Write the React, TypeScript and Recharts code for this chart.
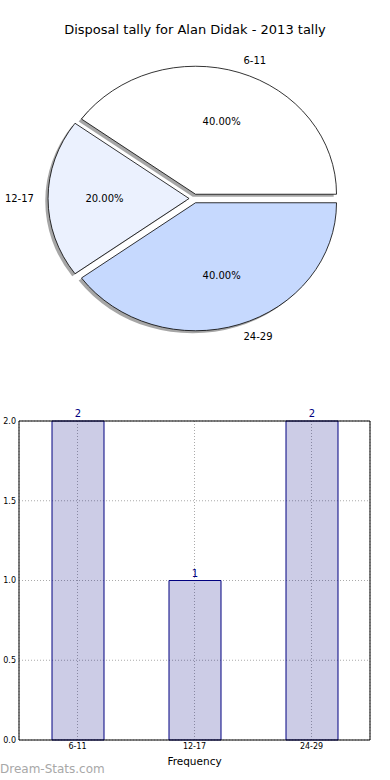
import {
  PieChart, Pie, BarChart, Bar, XAxis, YAxis, CartesianGrid, LabelList,
} from 'recharts';

const ageGroups = ['6-11', '12-17', '24-29'];
const disposals = [2, 1, 2];
const sliceColors = ['#ffffff', '#ebf1fe', '#c6d9fe'];
const yTicks = [0, 0.5, 1, 1.5, 2];

const FONT = '"DejaVu Sans", Verdana, sans-serif';
const RAD = Math.PI / 180;
// pie is drawn as an ellipse (matplotlib axes were not square)
const SX = 141 / 128;
const EXPLODE = 0.035;

const pieData = ageGroups.map((name, i) => ({ name, value: disposals[i], fill: sliceColors[i] }));
const barData = ageGroups.map((name, i) => ({ name, value: disposals[i] }));

function wedgePath(p: any, shiftX = 0, shiftY = 0) {
  const { cx, cy, outerRadius: r, startAngle, endAngle } = p;
  const mid = (startAngle + endAngle) / 2;
  const ox = cx + EXPLODE * r * SX * Math.cos(mid * RAD) + shiftX;
  const oy = cy - EXPLODE * r * Math.sin(mid * RAD) + shiftY;
  const pt = (a: number) => [ox + r * SX * Math.cos(a * RAD), oy - r * Math.sin(a * RAD)];
  const [x1, y1] = pt(startAngle);
  const [x2, y2] = pt(endAngle);
  const large = Math.abs(endAngle - startAngle) > 180 ? 1 : 0;
  return `M${ox},${oy} L${x1},${y1} A${r * SX},${r} 0 ${large} 0 ${x2},${y2} Z`;
}

const ShadowShape = (p: any) => (
  <path d={wedgePath(p, -2.8, 2.6)} fill="#4d4d4d" fillOpacity={0.5} stroke="none" />
);

const WedgeShape = (p: any) => (
  <path d={wedgePath(p)} fill={p.fill} stroke="#000" strokeWidth={0.8} />
);

const renderPieLabel = (p: any) => {
  const { cx, cy, outerRadius: r, midAngle, percent, index } = p;
  const c = Math.cos(midAngle * RAD);
  const s = Math.sin(midAngle * RAD);
  const ox = cx + EXPLODE * r * SX * c;
  const oy = cy - EXPLODE * r * s;
  return (
    <g>
      <text x={ox + 1.1 * r * SX * c} y={oy - 1.1 * r * s} textAnchor={c > 0 ? 'start' : 'end'}
        dominantBaseline="central" fontSize={10} fontFamily={FONT} fill="#000">
        {ageGroups[index]}
      </text>
      <text x={ox + 0.6 * r * SX * c} y={oy - 0.6 * r * s} textAnchor="middle"
        dominantBaseline="central" fontSize={10} fontFamily={FONT} fill="#000">
        {(percent * 100).toFixed(2)}%
      </text>
    </g>
  );
};

export default function App() {
  return (
    <div style={{ position: 'absolute', left: 0, top: 0, width: 390, height: 780, background: '#fff', fontFamily: FONT }}>
      <div style={{ position: 'absolute', top: 21, left: 0, width: 390, textAlign: 'center', fontSize: 13, lineHeight: '18px', color: '#000' }}>
        Disposal tally for Alan Didak - 2013 tally
      </div>

      <div style={{ position: 'absolute', top: 0, left: 0 }}>
        <PieChart width={390} height={370} margin={{ top: 0, right: 0, bottom: 0, left: 0 }}>
          {/* shadows first so every wedge sits on top of them */}
          <Pie data={pieData} dataKey="value" cx={194} cy={198.5} outerRadius={128}
            startAngle={0} endAngle={360} shape={ShadowShape} activeShape={ShadowShape}
            isAnimationActive={false} label={false} labelLine={false} />
          <Pie data={pieData} dataKey="value" cx={194} cy={198.5} outerRadius={128}
            startAngle={0} endAngle={360} shape={WedgeShape} activeShape={WedgeShape}
            isAnimationActive={false} label={renderPieLabel} labelLine={false} />
        </PieChart>
      </div>

      <div style={{ position: 'absolute', top: 400, left: 0 }}>
        <BarChart width={390} height={380} data={barData} margin={{ top: 20, right: 19, left: 0, bottom: 0 }}>
          <CartesianGrid stroke="#aaa" strokeDasharray="1 2" />
          <XAxis dataKey="name" height={40} tickLine={false} tickSize={3} tickMargin={0}
            axisLine={{ stroke: '#000' }}
            tick={{ fontSize: 8, fill: '#000', fontFamily: FONT }}
            label={{ value: 'Frequency', position: 'insideBottom', offset: 15, fontSize: 10.5, fill: '#000', fontFamily: FONT }} />
          <XAxis xAxisId="top" dataKey="name" orientation="top" height={1} tick={false} tickLine={false}
            axisLine={{ stroke: '#000' }} />
          <YAxis domain={[0, 2]} ticks={yTicks} width={19} tickLine={false} tickSize={3} tickMargin={0}
            tickFormatter={(v: number) => v.toFixed(1)} axisLine={{ stroke: '#000' }}
            tick={{ fontSize: 8, fill: '#000', fontFamily: FONT }} />
          <YAxis yAxisId="right" orientation="right" domain={[0, 2]} width={1} tick={false} tickLine={false}
            axisLine={{ stroke: '#000' }} />
          <Bar dataKey="value" barSize={52} fill="navy" fillOpacity={0.2} stroke="navy" strokeWidth={1}
            isAnimationActive={false}>
            <LabelList dataKey="value" position="top" offset={4} fill="navy" fontSize={10} fontFamily={FONT} />
          </Bar>
        </BarChart>
      </div>

      <div style={{ position: 'absolute', top: 761, left: 0, fontSize: 12, color: '#a8a8a8', lineHeight: '16px' }}>
        Dream-Stats.com
      </div>
    </div>
  );
}
